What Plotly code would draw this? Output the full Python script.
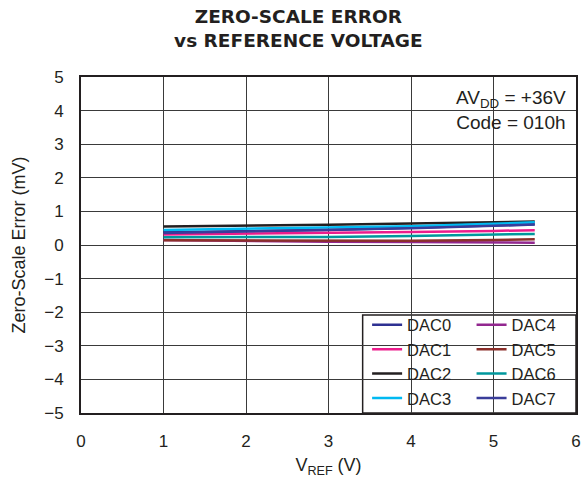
import plotly.graph_objects as go

# reference voltage sweep (V) and measured zero-scale error (mV) per channel
vref = [1, 2, 3, 4, 5, 5.5]

dac0 = [0.38, 0.41, 0.45, 0.51, 0.58, 0.62]
dac1 = [0.31, 0.33, 0.36, 0.39, 0.42, 0.44]
dac2 = [0.55, 0.57, 0.60, 0.64, 0.68, 0.70]
dac3 = [0.45, 0.48, 0.51, 0.56, 0.63, 0.68]
dac4 = [0.15, 0.12, 0.10, 0.09, 0.08, 0.07]
dac5 = [0.14, 0.13, 0.12, 0.13, 0.15, 0.17]
dac6 = [0.23, 0.23, 0.24, 0.27, 0.31, 0.33]
dac7 = [0.36, 0.40, 0.44, 0.50, 0.57, 0.61]

names = ["DAC0", "DAC1", "DAC2", "DAC3", "DAC4", "DAC5", "DAC6", "DAC7"]
series = [dac0, dac1, dac2, dac3, dac4, dac5, dac6, dac7]
colors = ["#2e3192", "#ec1c8c", "#231f20", "#00b9f1",
          "#92278f", "#8b2f2a", "#00979c", "#3a3d9a"]

FONT = "Liberation Sans, Arial, sans-serif"

fig = go.Figure()
for i, (name, vals, col) in enumerate(zip(names, series, colors)):
    fig.add_trace(
        go.Scatter(
            x=vref,
            y=vals,
            mode="lines",
            name=name,
            line=dict(color=col, width=2.5),
            legend="legend" if i < 4 else "legend2",
        )
    )

# white boxes that hide the grid behind the legend and the note
fig.add_shape(type="rect", xref="paper", yref="paper", x0=0.569, x1=1, y0=0, y1=0.292,
              line=dict(color="#231f20", width=1.5), fillcolor="white", layer="between")
fig.add_shape(type="rect", xref="paper", yref="paper", x0=0.748, x1=0.997, y0=0.80, y1=0.997,
              line=dict(width=0), fillcolor="white", layer="between")

fig.add_annotation(
    xref="paper", yref="paper", x=0.868, y=0.902, xanchor="center", yanchor="middle",
    showarrow=False,
    text="AV<sub>DD</sub> = +36V<br>Code = 010h",
    font=dict(family=FONT, size=19, color="#231f20"), align="center",
)

legend_style = dict(
    bgcolor="rgba(0,0,0,0)", borderwidth=0,
    font=dict(family=FONT, size=16.5, color="#231f20"),
    yanchor="top", y=0.314, xanchor="left", tracegroupgap=0,
)

fig.update_layout(
    width=585,
    height=478,
    margin=dict(l=81, r=4, t=77, b=62),
    paper_bgcolor="white",
    plot_bgcolor="white",
    title=dict(
        text="<b>ZERO-SCALE ERROR<br>vs REFERENCE VOLTAGE</b>",
        x=0.51, xanchor="center", y=0.952, yanchor="top",
        font=dict(family="DejaVu Sans", size=18.5, color="#231f20"),
    ),
    legend=dict(x=0.578, **legend_style),
    legend2=dict(x=0.789, **legend_style),
    font=dict(family=FONT, size=17, color="#231f20"),
)

fig.update_xaxes(
    range=[0, 6], dtick=1, showgrid=True, gridcolor="#3a3a3a", gridwidth=1,
    showline=True, linecolor="#231f20", linewidth=2, mirror=True,
    zeroline=False, ticks="", ticklabelstandoff=12,
    title=dict(text="V<sub>REF</sub> (V)", standoff=10, font=dict(size=18)),
)
fig.update_yaxes(
    range=[-5, 5], dtick=1, showgrid=True, gridcolor="#3a3a3a", gridwidth=1,
    showline=True, linecolor="#231f20", linewidth=2, mirror=True,
    zeroline=False, ticks="", ticklabelstandoff=12,
    title=dict(text="Zero-Scale Error (mV)", standoff=14, font=dict(size=18)),
)

fig.write_html(
    "out.html",
    config={"displayModeBar": False},
    post_script="document.body.style.margin='0';",
)
